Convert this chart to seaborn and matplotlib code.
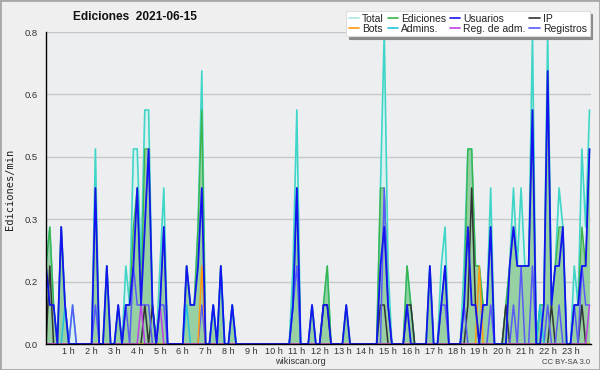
import numpy as np
import pandas as pd
import matplotlib
matplotlib.use("Agg")
import matplotlib.pyplot as plt
import seaborn as sns
from matplotlib.ticker import FixedLocator, FormatStrFormatter, MultipleLocator
from matplotlib.lines import Line2D
from matplotlib.patches import Rectangle

# ---- data: counts per 10-minute bin (144 bins over the day) ----
total_counts = sum([
    [2, 3, 1, 0, 3, 1, 0, 1, 0, 0, 0, 0],
    [0, 5, 0, 0, 2, 0, 0, 1, 0, 2, 1, 5],
    [5, 2, 6, 6, 1, 0, 2, 4, 0, 0, 0, 0],
    [0, 2, 1, 1, 3, 7, 0, 0, 1, 0, 2, 0],
    [0, 1, 0, 0, 0, 0, 0, 0, 0, 0, 0, 0],
    [0, 0, 0, 0, 0, 2, 6, 0, 0, 0, 1, 0],
    [0, 1, 2, 0, 0, 0, 0, 1, 0, 0, 0, 0],
    [0, 0, 0, 0, 4, 8, 2, 0, 0, 0, 0, 2],
    [1, 0, 0, 0, 0, 2, 0, 0, 2, 3, 0, 0],
    [0, 0, 2, 5, 5, 2, 2, 1, 1, 4, 0, 0],
    [0, 1, 2, 4, 2, 4, 2, 2, 8, 0, 1, 1],
    [8, 1, 2, 4, 3, 0, 0, 2, 1, 5, 3, 6],
], [])
edit_counts = sum([
    [2, 3, 1, 0, 3, 1, 0, 0, 0, 0, 0, 0],
    [0, 4, 0, 0, 2, 0, 0, 1, 0, 1, 1, 3],
    [4, 1, 5, 5, 1, 0, 1, 3, 0, 0, 0, 0],
    [0, 2, 1, 1, 3, 6, 0, 0, 1, 0, 2, 0],
    [0, 1, 0, 0, 0, 0, 0, 0, 0, 0, 0, 0],
    [0, 0, 0, 0, 0, 1, 4, 0, 0, 0, 1, 0],
    [0, 1, 2, 0, 0, 0, 0, 1, 0, 0, 0, 0],
    [0, 0, 0, 0, 4, 4, 1, 0, 0, 0, 0, 2],
    [1, 0, 0, 0, 0, 2, 0, 0, 1, 2, 0, 0],
    [0, 0, 1, 5, 5, 2, 2, 1, 1, 3, 0, 0],
    [0, 1, 2, 3, 2, 2, 2, 2, 6, 0, 1, 1],
    [7, 1, 2, 3, 3, 0, 0, 1, 1, 3, 2, 5],
], [])
user_counts = sum([
    [2, 1, 1, 0, 3, 1, 0, 0, 0, 0, 0, 0],
    [0, 4, 0, 0, 2, 0, 0, 1, 0, 1, 1, 2],
    [4, 1, 3, 5, 1, 0, 1, 3, 0, 0, 0, 0],
    [0, 2, 1, 1, 2, 4, 0, 0, 1, 0, 2, 0],
    [0, 1, 0, 0, 0, 0, 0, 0, 0, 0, 0, 0],
    [0, 0, 0, 0, 0, 1, 4, 0, 0, 0, 1, 0],
    [0, 1, 1, 0, 0, 0, 0, 1, 0, 0, 0, 0],
    [0, 0, 0, 0, 2, 3, 1, 0, 0, 0, 0, 1],
    [0, 0, 0, 0, 0, 2, 0, 0, 1, 2, 0, 0],
    [0, 0, 1, 3, 1, 1, 0, 1, 1, 3, 0, 0],
    [0, 0, 2, 3, 2, 2, 2, 2, 6, 0, 0, 1],
    [7, 1, 2, 2, 3, 0, 0, 1, 1, 2, 2, 5],
], [])
ip_counts = sum([
    [0, 2, 0, 0, 0, 0, 0, 0, 0, 0, 0, 0],
    [0, 0, 0, 0, 0, 0, 0, 0, 0, 0, 0, 0],
    [0, 0, 1, 0, 1, 0, 0, 0, 0, 0, 0, 0],
    [0, 0, 0, 0, 0, 0, 0, 0, 0, 0, 0, 0],
    [0, 0, 0, 0, 0, 0, 0, 0, 0, 0, 0, 0],
    [0, 0, 0, 0, 0, 0, 0, 0, 0, 0, 0, 0],
    [0, 1, 1, 0, 0, 0, 0, 0, 0, 0, 0, 0],
    [0, 0, 0, 0, 1, 1, 0, 0, 0, 0, 0, 1],
    [1, 0, 0, 0, 0, 0, 0, 0, 0, 0, 0, 0],
    [0, 0, 0, 1, 4, 1, 0, 0, 0, 0, 0, 0],
    [0, 1, 0, 0, 0, 0, 0, 0, 0, 0, 0, 0],
    [0, 1, 0, 0, 0, 0, 0, 0, 0, 1, 0, 0],
], [])
log_counts = sum([
    [0, 0, 0, 0, 0, 0, 0, 1, 0, 0, 0, 0],
    [0, 1, 0, 0, 0, 0, 0, 0, 0, 1, 0, 2],
    [1, 1, 1, 1, 0, 0, 1, 1, 0, 0, 0, 0],
    [0, 0, 0, 0, 0, 1, 0, 0, 0, 0, 0, 0],
    [0, 0, 0, 0, 0, 0, 0, 0, 0, 0, 0, 0],
    [0, 0, 0, 0, 0, 1, 2, 0, 0, 0, 0, 0],
    [0, 0, 0, 0, 0, 0, 0, 0, 0, 0, 0, 0],
    [0, 0, 0, 0, 0, 4, 1, 0, 0, 0, 0, 0],
    [0, 0, 0, 0, 0, 0, 0, 0, 1, 1, 0, 0],
    [0, 0, 1, 0, 0, 0, 0, 0, 0, 1, 0, 0],
    [0, 0, 0, 1, 0, 2, 0, 0, 2, 0, 0, 0],
    [1, 0, 0, 1, 0, 0, 0, 1, 0, 2, 1, 1],
], [])
admin_counts = sum([
    [0, 0, 0, 0, 0, 1, 0, 0, 0, 0, 0, 0],
    [0, 0, 0, 0, 0, 0, 0, 0, 0, 0, 0, 0],
    [0, 0, 0, 0, 0, 0, 0, 0, 0, 0, 0, 0],
    [0, 1, 0, 0, 0, 0, 0, 0, 1, 0, 2, 0],
    [0, 1, 0, 0, 0, 0, 0, 0, 0, 0, 0, 0],
    [0, 0, 0, 0, 0, 1, 4, 0, 0, 0, 0, 0],
    [0, 0, 0, 0, 0, 0, 0, 0, 0, 0, 0, 0],
    [0, 0, 0, 0, 0, 0, 0, 0, 0, 0, 0, 0],
    [0, 0, 0, 0, 0, 0, 0, 0, 0, 0, 0, 0],
    [0, 0, 0, 0, 0, 0, 0, 0, 0, 0, 0, 0],
    [0, 0, 0, 0, 0, 0, 0, 0, 0, 0, 1, 0],
    [0, 0, 0, 0, 0, 0, 0, 0, 0, 0, 0, 0],
], [])
bot_counts = sum([
    [0] * 12, [0] * 12, [0] * 12,
    [0, 0, 0, 0, 0, 2, 0, 0, 0, 0, 0, 0],
    [0] * 12, [0] * 12, [0] * 12, [0] * 12, [0] * 12,
    [0, 0, 0, 0, 0, 0, 2, 0, 0, 0, 0, 0],
    [0] * 12, [0] * 12,
], [])
adminlog_counts = sum([
    [0] * 12, [0] * 12,
    [0, 1, 0, 0, 0, 0, 1, 0, 0, 0, 0, 0],
    [0] * 12, [0] * 12, [0] * 12, [0] * 12, [0] * 12, [0] * 12, [0] * 12, [0] * 12,
    [0, 0, 0, 0, 0, 0, 0, 0, 0, 0, 0, 1],
], [])

hour_labels = [f"{h} h" for h in range(1, 24)]
BIN_MIN = 10  # minutes per bin -> edits per minute

idx = np.arange(len(total_counts))
per_min = lambda c: np.array(c, dtype=float) / BIN_MIN
df = pd.DataFrame({
    "idx": idx,
    "Total": per_min(total_counts),
    "Ediciones": per_min(edit_counts),
    "Usuarios": per_min(user_counts),
    "IP": per_min(ip_counts),
    "Bots": per_min(bot_counts),
    "Admins.": per_min(admin_counts),
    "Reg. de adm.": per_min(adminlog_counts),
    "Registros": per_min(log_counts),
})

sns.set_theme(style="white")
plt.rcParams["font.family"] = ["Liberation Sans", "DejaVu Sans"]

fig = plt.figure(figsize=(6, 3.7), dpi=100, facecolor="#efefef")
ax = fig.add_axes([46 / 600, 26 / 370, 545 / 600, 312 / 370])
ax.set_facecolor("#eceef0")

colors = {
    "Total": "#3fd6c8",
    "Ediciones": "#3cb44a",
    "Usuarios": "#1414f0",
    "IP": "#333333",
    "Bots": "#ff9a10",
    "Admins.": "#22c4e0",
    "Reg. de adm.": "#c040e8",
    "Registros": "#5a5af8",
}

ax.fill_between(df["idx"], df["Total"], color="#d6f3f0", alpha=0.8, lw=0, zorder=1)
ax.fill_between(df["idx"], df["Ediciones"], color="#80c68a", alpha=0.75, lw=0, zorder=2)

order = [("Total", 1.2, 3), ("Ediciones", 1.0, 4), ("IP", 1.1, 5), ("Registros", 1.1, 6),
         ("Admins.", 1.1, 7), ("Bots", 1.1, 8), ("Reg. de adm.", 1.1, 9), ("Usuarios", 1.3, 10)]
for name, lw, z in order:
    sns.lineplot(data=df, x="idx", y=name, ax=ax, color=colors[name], linewidth=lw,
                 estimator=None, legend=False, zorder=z)

ax.set_xlim(0, 143.4)
ax.set_ylim(0, 0.8)
ax.set_xlabel("")
ax.set_ylabel("")

ax.yaxis.set_major_locator(FixedLocator(np.linspace(0, 0.8, 6)))
ax.yaxis.set_major_formatter(FormatStrFormatter("%.1f"))
ax.yaxis.set_minor_locator(MultipleLocator(0.04))
ax.set_xticks([6 * h for h in range(1, 24)])
ax.set_xticklabels(hour_labels)
ax.xaxis.set_minor_locator(MultipleLocator(1))

ax.tick_params(axis="both", which="both", direction="out", color="black", width=1,
               labelsize=6.8, labelcolor="#333333")
ax.tick_params(axis="y", which="major", length=5, pad=1)
ax.tick_params(axis="y", which="minor", length=4)
ax.tick_params(axis="x", which="both", length=4, pad=-1.5, labelsize=6.6)

ax.yaxis.grid(True, color="#c8c8c8", lw=1)
ax.xaxis.grid(False)
ax.set_axisbelow(True)
for s in ["top", "right"]:
    ax.spines[s].set_visible(False)
for s in ["left", "bottom"]:
    ax.spines[s].set_color("black")
    ax.spines[s].set_linewidth(1)
    ax.spines[s].set_zorder(20)

legend_colors = {"Total": "#a8e8e6", **{k: v for k, v in colors.items() if k != "Total"}}
legend_order = ["Total", "Bots", "Ediciones", "Admins.", "Usuarios", "Reg. de adm.", "IP", "Registros"]
handles = [Line2D([0], [0], color=legend_colors[n], lw=1.2) for n in legend_order]
leg = fig.legend(handles, legend_order, loc="upper left", bbox_to_anchor=(346 / 600, 1 - 11 / 370),
                 ncol=4, fontsize=7.5, frameon=True, fancybox=False,
                 shadow={"color": "#8a8a8a", "alpha": 1.0},
                 borderpad=0.25, handlelength=1.0, handletextpad=0.3, columnspacing=0.35,
                 labelspacing=0.0, borderaxespad=0)
leg.get_frame().set_edgecolor("#dddddd")
leg.get_frame().set_facecolor("white")
leg.get_frame().set_linewidth(0.8)
for t in leg.get_texts():
    t.set_color("#222222")

fig.text(135 / 600, 1 - 17 / 370, "Ediciones  2021-06-15", ha="center", va="center",
         fontsize=8.6, fontweight="bold", color="#111111")
fig.text(10 / 600, 1 - 189 / 370, "Ediciones/min", rotation=90, ha="center", va="center",
         fontsize=7.5, family="DejaVu Sans Mono", color="#222222")
fig.text(300 / 600, 1 - 362 / 370, "wikiscan.org", ha="center", va="center",
         fontsize=6.6, color="#333333")
fig.text(590 / 600, 1 - 362 / 370, "CC BY-SA 3.0", ha="right", va="center",
         fontsize=5.6, color="#444444")

fig.add_artist(Rectangle((0, 0), 1, 1, transform=fig.transFigure, fill=False,
                         edgecolor="#a8a8a8", lw=2))

fig.savefig("out.png", dpi=100, facecolor=fig.get_facecolor())
